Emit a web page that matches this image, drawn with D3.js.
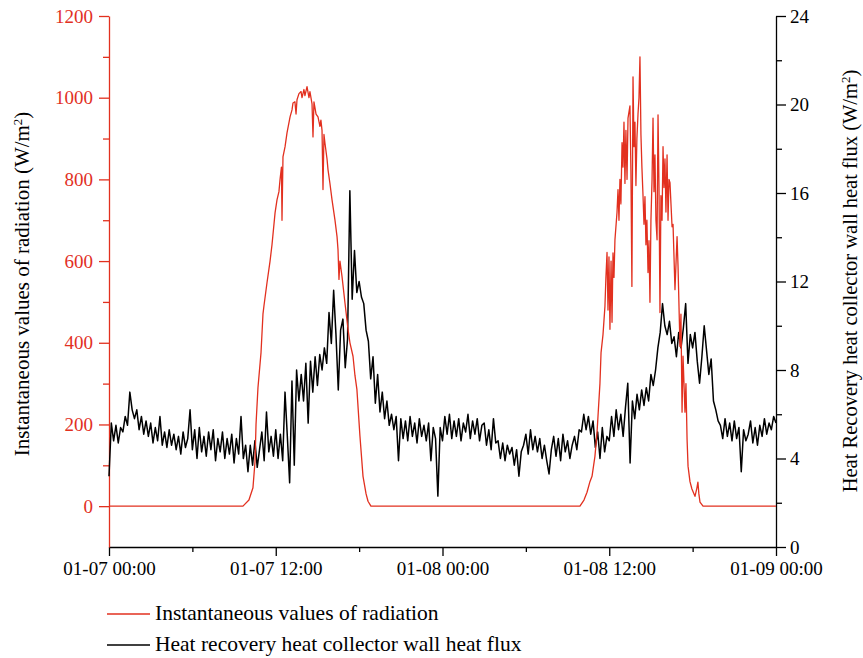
<!DOCTYPE html>
<html>
<head>
<meta charset="utf-8">
<script src="https://d3js.org/d3.v7.min.js"></script>
<style>
body { margin: 0; background: #fff; }
svg text { font-family: "Liberation Serif", "Times New Roman", serif; }
</style>
</head>
<body>
<svg id="chart" width="863" height="658"></svg>
<script>
// radiation (left axis, W/m2): hour since 01-07 00:00 and value
const radHours = [0, 9.64, 10.07, 10.36, 10.51, 10.58, 10.72, 10.94, 11.08, 11.15, 11.37, 11.59, 11.73, 11.95, 12.09, 12.23, 12.31, 12.41, 12.45, 12.52,
    12.67, 12.81, 13.03, 13.17, 13.24, 13.38, 13.46, 13.53, 13.67, 13.82, 13.89, 14.03, 14.10, 14.25, 14.39, 14.46, 14.61, 14.68, 14.75, 14.90,
    15.04, 15.18, 15.25, 15.33, 15.40, 15.47, 15.54, 15.69, 15.76, 15.90, 16.05, 16.26, 16.41, 16.48, 16.55, 16.62, 16.77, 16.98, 17.20, 17.34,
    17.56, 17.70, 17.84, 18.06, 18.28, 18.50, 18.64, 18.85,
    33.89, 34.18, 34.40, 34.61, 34.76, 34.97, 35.12, 35.19, 35.33, 35.41, 35.55, 35.69, 35.76, 35.84, 35.91, 35.98, 36.05, 36.13, 36.20, 36.27,
    36.34, 36.41, 36.56, 36.63, 36.70, 36.77, 36.84, 36.92, 36.99, 37.06, 37.13, 37.20, 37.28, 37.35, 37.49, 37.56, 37.63, 37.71, 37.78, 37.85,
    37.92, 37.99, 38.07, 38.14, 38.21, 38.28, 38.35, 38.43, 38.50, 38.57, 38.64, 38.71, 38.79, 38.86, 38.93, 39.00, 39.08, 39.15, 39.22, 39.29,
    39.36, 39.44, 39.51, 39.58, 39.65, 39.72, 39.80, 39.87, 39.94, 40.01, 40.08, 40.16, 40.23, 40.30, 40.37, 40.52, 40.59, 40.73, 40.88, 40.95,
    41.09, 41.16, 41.24, 41.31, 41.45, 41.52, 41.60, 41.67, 41.81, 41.95, 42.17, 42.31, 42.38, 42.45, 42.53, 42.75, 48];
const radValues = [0, 0, 15, 45, 110, 200, 290, 376, 470, 490, 547, 600, 640, 718, 750, 770, 800, 830, 700, 855,
    880, 914, 953, 970, 987, 990, 960, 995, 1010, 1015, 1000, 1020, 1005, 1027, 1000, 1015, 985, 904, 990, 960,
    953, 930, 945, 920, 775, 910, 889, 850, 824, 790, 750, 701, 660, 628, 555, 600, 562, 498, 433, 400,
    367, 320, 286, 171, 73, 30, 12, 0,
    0, 15, 34, 60, 73, 122, 180, 220, 300, 376, 420, 489, 560, 621, 480, 610, 433, 600, 450, 620,
    560, 652, 720, 775, 700, 800, 740, 890, 830, 940, 790, 920, 800, 950, 980, 820, 538, 1051, 880, 940,
    785, 900, 960, 1000, 1100, 910, 830, 760, 690, 758, 640, 700, 572, 650, 499, 700, 800, 950, 770, 860,
    700, 652, 958, 780, 474, 760, 700, 880, 780, 850, 720, 860, 700, 800, 792, 684, 690, 530, 660, 587,
    391, 470, 230, 367, 230, 300, 164, 98, 60, 42, 24, 45, 59, 30, 10, 0, 0];

// heat flux (right axis, W/m2): one value every 10 minutes from 01-07 00:00
const fluxStepMinutes = 10;
const fluxValues = [
    3.2, 5.6, 4.8, 5.5, 4.7, 5.4,   5.2, 5.9, 5.5, 7.0, 6.2, 5.8,   6.2, 5.3, 5.9, 5.1, 5.7, 5.0,
    5.6, 4.7, 5.4, 4.8, 5.9, 4.6,   5.2, 4.5, 5.3, 4.6, 5.1, 4.4,   5.0, 4.2, 5.2, 4.5, 4.9, 6.2,
    4.4, 5.3, 4.0, 5.4, 4.3, 5.0,   4.1, 5.2, 4.4, 5.3, 3.9, 4.9,   4.3, 5.2, 4.0, 4.9, 4.2, 5.1,
    3.8, 4.9, 4.2, 5.9, 4.0, 4.6,   3.4, 4.6, 3.7, 4.8, 3.6, 4.4,   5.2, 3.9, 6.1, 4.3, 5.0, 4.1,
    5.3, 4.0, 5.1, 3.9, 7.0, 5.0,   2.9, 7.5, 3.7, 8.0, 6.6, 7.8,   6.6, 8.3, 5.6, 8.4, 7.0, 8.6,
    7.3, 8.7, 8.0, 9.0, 8.3, 10.6,  9.2, 11.6, 9.6, 7.1, 9.8, 10.3, 8.1, 9.4, 16.1, 11.2, 13.4, 11.5,
    12.0, 11.3, 11.0, 9.8, 9.3, 7.6, 8.6, 6.5, 7.8, 6.1, 7.0, 5.8,  6.6, 5.5, 6.0, 5.3, 5.9, 3.9,
    5.8, 4.9, 5.7, 4.8, 5.9, 5.0,   5.6, 4.7, 5.8, 5.0, 5.5, 4.8,   5.6, 3.9, 5.4, 4.9, 2.3, 5.4,
    4.8, 5.9, 5.1, 6.0, 4.9, 5.7,   5.0, 5.8, 4.8, 5.6, 5.2, 6.0,   4.9, 5.7, 5.1, 5.8, 4.8, 5.5,
    5.6, 4.6, 5.3, 4.4, 5.8, 4.7,   4.8, 4.0, 4.7, 3.9, 4.6, 4.2,   4.5, 3.7, 4.4, 3.2, 4.3, 4.6,
    5.1, 4.2, 5.3, 4.4, 5.0, 4.3,   4.9, 4.0, 4.6, 3.9, 3.3, 4.4,   5.0, 4.1, 4.9, 3.9, 5.1, 4.3,
    4.8, 4.0, 4.6, 5.0, 4.4, 5.3,   5.2, 6.0, 5.3, 5.9, 5.1, 5.7,   4.5, 5.2, 4.0, 5.4, 4.3, 5.0,
    4.8, 5.9, 5.0, 6.2, 5.3, 6.0,   5.0, 6.3, 7.4, 3.8, 6.6, 5.8,   6.9, 6.2, 7.1, 6.4, 7.2, 6.6,
    7.8, 7.3, 8.0, 9.0, 9.7, 11.0,  10.0, 9.6, 10.2, 9.2, 9.5, 8.6, 9.7, 9.0, 9.9, 11.0, 8.3, 9.6,
    9.0, 9.7, 8.4, 7.4, 8.6, 10.0,  8.9, 7.8, 8.5, 6.6, 6.2, 5.7,   5.5, 4.9, 5.8, 5.0, 5.6, 4.8,
    5.7, 4.9, 5.4, 3.4, 5.3, 4.8,   5.1, 5.7, 4.7, 5.4, 4.6, 5.5,   5.0, 5.8, 5.1, 5.6, 5.3, 5.9,
    5.6];

const xTickHours = [0, 12, 24, 36, 48];
const xTickLabels = ["01-07 00:00", "01-07 12:00", "01-08 00:00", "01-08 12:00", "01-09 00:00"];
const xMinorHours = [6, 18, 30, 42];
const leftTicks = [0, 200, 400, 600, 800, 1000, 1200];
const leftMinor = [100, 300, 500, 700, 900, 1100];
const rightTicks = [0, 4, 8, 12, 16, 20, 24];
const rightMinor = [2, 6, 10, 14, 18, 22];
const legendLabels = ["Instantaneous values of radiation", "Heat recovery heat collector wall heat flux"];

const red = "#e2301f";
const plot = { left: 109, right: 776, top: 16, bottom: 547 };
const svg = d3.select("#chart");

const xScale = d3.scaleLinear().domain([0, 48]).range([plot.left, plot.right]);
const yLeft = d3.scaleLinear().domain([-100, 1200]).range([plot.bottom, plot.top]);
const yRight = d3.scaleLinear().domain([0, 24]).range([plot.bottom, plot.top]);

function style_axis(g, color, size)
{
    g.selectAll("path").attr("stroke", color).attr("stroke-width", 1.3);
    g.selectAll("line").attr("stroke", color).attr("stroke-width", 1.3);
    g.selectAll("text")
        .attr("fill", color)
        .style("font-size", size + "px")
        .style("font-family", "'Liberation Serif', serif");
}

// x axis
svg.append("g")
    .attr("transform", "translate(0," + plot.bottom + ")")
    .call(d3.axisBottom(xScale).tickValues(xMinorHours).tickSize(5).tickFormat(""))
    .call(function (g) { g.select(".domain").remove(); })
    .call(style_axis, "#000", 19);
svg.append("g")
    .attr("transform", "translate(0," + plot.bottom + ")")
    .call(d3.axisBottom(xScale).tickValues(xTickHours).tickSize(9).tickSizeOuter(0).tickPadding(6)
        .tickFormat(function (d, i) { return xTickLabels[i]; }))
    .call(style_axis, "#000", 19);

// left axis
svg.append("g")
    .attr("transform", "translate(" + plot.left + ",0)")
    .call(d3.axisLeft(yLeft).tickValues(leftMinor).tickSize(6).tickFormat(""))
    .call(function (g) { g.select(".domain").remove(); })
    .call(style_axis, red, 19);
svg.append("g")
    .attr("transform", "translate(" + plot.left + ",0)")
    .call(d3.axisLeft(yLeft).tickValues(leftTicks).tickSize(10).tickSizeOuter(0).tickPadding(6)
        .tickFormat(d3.format("d")))
    .call(style_axis, red, 19);

// right axis
svg.append("g")
    .attr("transform", "translate(" + plot.right + ",0)")
    .call(d3.axisRight(yRight).tickValues(rightMinor).tickSize(6).tickFormat(""))
    .call(function (g) { g.select(".domain").remove(); })
    .call(style_axis, "#000", 19);
svg.append("g")
    .attr("transform", "translate(" + plot.right + ",0)")
    .call(d3.axisRight(yRight).tickValues(rightTicks).tickSize(10).tickSizeOuter(0).tickPadding(4))
    .call(style_axis, "#000", 19);

// series
var fluxLine = d3.line()
    .x(function (d, i) { return xScale(i * fluxStepMinutes / 60); })
    .y(function (d) { return yRight(d); });
svg.append("path")
    .datum(fluxValues)
    .attr("fill", "none")
    .attr("stroke", "#000")
    .attr("stroke-width", 1.5)
    .attr("stroke-linejoin", "round")
    .attr("d", fluxLine);

var radLine = d3.line()
    .x(function (d, i) { return xScale(radHours[i]); })
    .y(function (d) { return yLeft(d); });
svg.append("path")
    .datum(radValues)
    .attr("fill", "none")
    .attr("stroke", red)
    .attr("stroke-width", 1.3)
    .attr("stroke-linejoin", "round")
    .attr("d", radLine);

// axis titles
function axis_title(x, y, label, color, size)
{
    var t = svg.append("text")
        .attr("transform", "translate(" + x + "," + y + ") rotate(-90)")
        .attr("text-anchor", "middle")
        .attr("fill", color)
        .style("font-size", size + "px");
    t.append("tspan").text(label + " (W/m");
    t.append("tspan").attr("dy", -7).style("font-size", "13px").text("2");
    t.append("tspan").attr("dy", 7).text(")");
}
axis_title(29, 284, "Instantaneous values of radiation", "#000", 21);
axis_title(857, 281, "Heat Recovery heat collector wall heat flux", "#000", 20.5);

// legend
var legend = svg.append("g").selectAll("g")
    .data(legendLabels)
    .enter().append("g")
    .attr("transform", function (d, i) { return "translate(107," + (614 + i * 31) + ")"; });
legend.append("line")
    .attr("x1", 0).attr("x2", 43)
    .attr("stroke", function (d, i) { return i === 0 ? red : "#000"; })
    .attr("stroke-width", 1.4);
legend.append("text")
    .attr("x", 48)
    .attr("y", 6)
    .style("font-size", "21.5px")
    .text(function (d) { return d; });
</script>
</body>
</html>
